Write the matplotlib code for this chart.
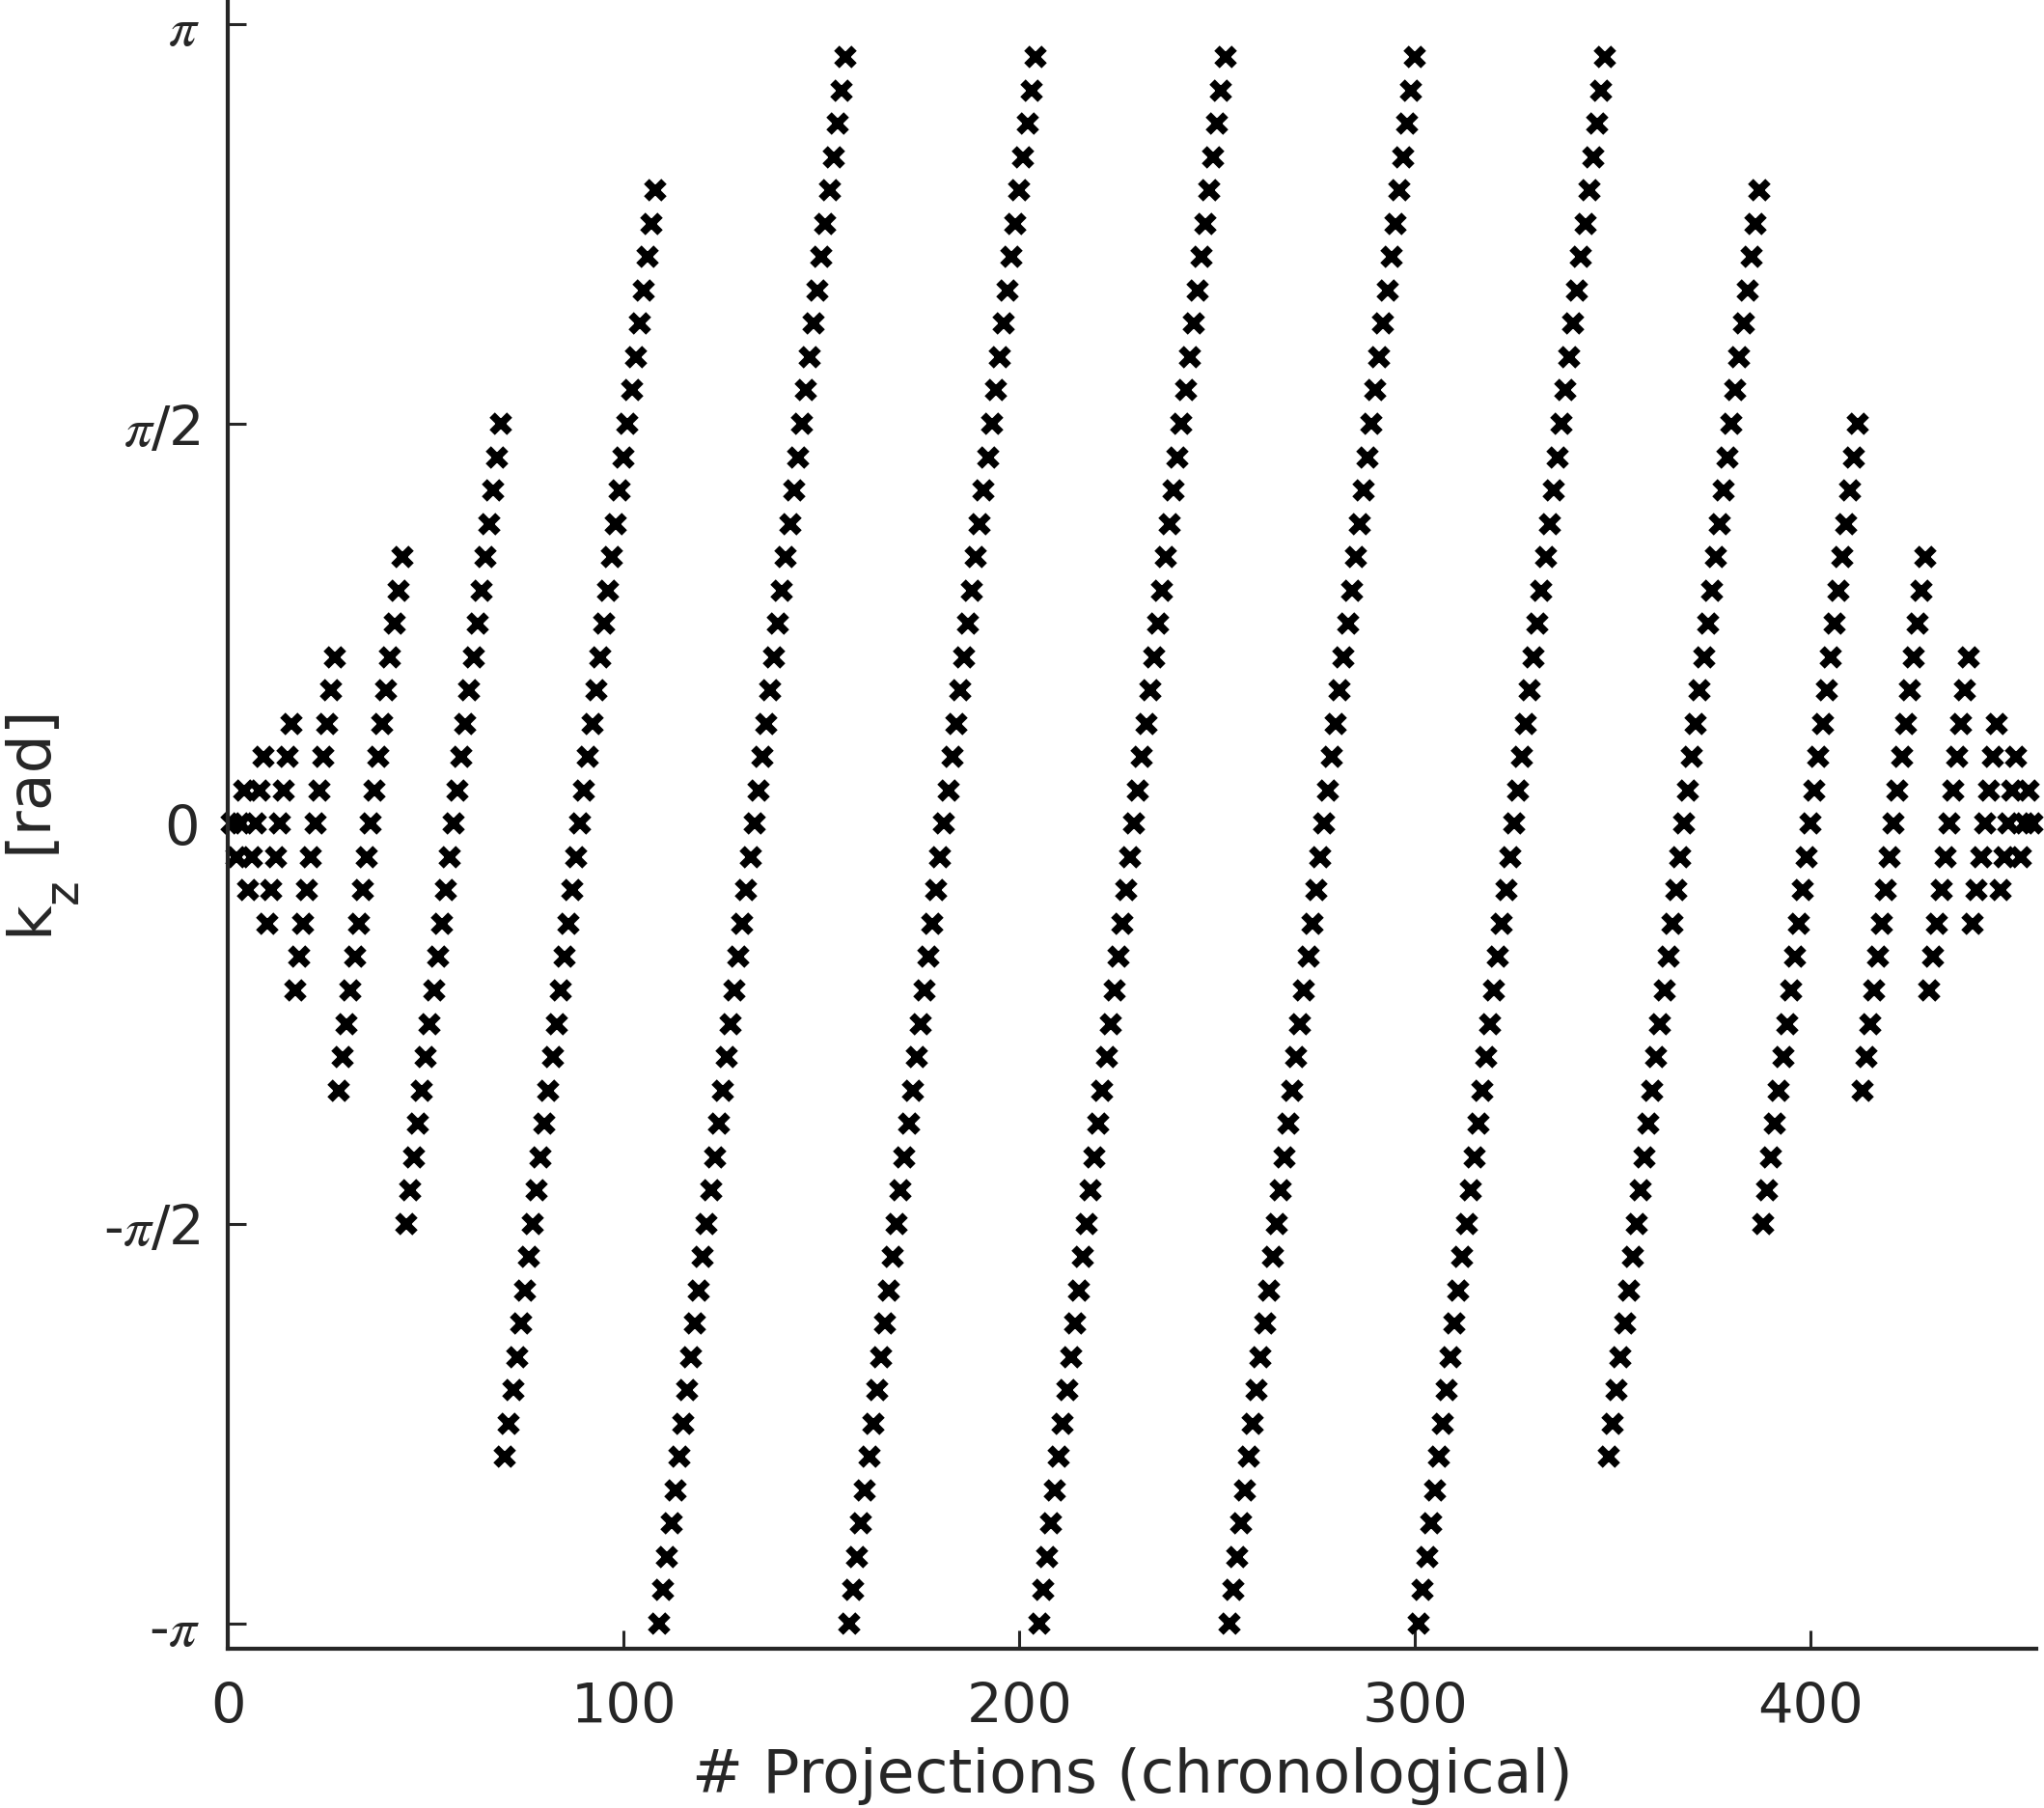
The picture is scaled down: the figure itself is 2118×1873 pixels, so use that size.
import numpy as np
import matplotlib
matplotlib.use('Agg')
import matplotlib.pyplot as plt

# kz sweep of each partition block, in units of pi/24 (lowest -> highest)
# each block is acquired on consecutive projections, one kz step per projection
k_low  = [0, -1, -2, -3, -5, -8, -12, -19, -24, -24, -24, -24, -24,
          -19, -12, -8, -5, -3, -2, -1, 0]
k_high = [0, 1, 2, 3, 5, 8, 12, 19, 23, 23, 23, 23, 23,
          19, 12, 8, 5, 3, 2, 1, 0]
KZ_STEP = np.pi / 24

ytick_vals   = [-np.pi, -np.pi / 2, 0, np.pi / 2, np.pi]
ytick_labels = [r'-$\pi$', r'-$\pi$/2', '0', r'$\pi$/2', r'$\pi$']
xtick_vals   = [0, 100, 200, 300, 400]

# build the chronological list of (projection, kz)
kz = np.concatenate([np.arange(lo, hi + 1) for lo, hi in zip(k_low, k_high)]) * KZ_STEP
proj = np.arange(1, len(kz) + 1)

plt.rcParams['font.family'] = 'DejaVu Sans'
plt.rcParams['mathtext.fontset'] = 'stix'
AX_COL = '#262626'
W, H = 2118, 1874

fig = plt.figure(figsize=(W / 200, H / 200), dpi=200)
ax = fig.add_axes([0.1116, 0.0882, 0.8846, 0.9118])

ax.plot(proj, kz, linestyle='none', marker='x', color='black',
        markersize=6.4, markeredgewidth=2.8, clip_on=False)

ax.set_xlim(0, 457)
ax.set_ylim(-1.031 * np.pi, 1.031 * np.pi)
ax.set_xticks(xtick_vals)
ax.set_yticks(ytick_vals)
ax.set_yticklabels(ytick_labels)

for side in ['top', 'right']:
    ax.spines[side].set_visible(False)
for side in ['left', 'bottom']:
    ax.spines[side].set_color(AX_COL)
    ax.spines[side].set_linewidth(1.5)

ax.tick_params(axis='both', direction='in', length=7, width=1.1,
               colors=AX_COL, labelsize=20.7)
ax.tick_params(axis='x', pad=12)
ax.tick_params(axis='y', pad=10.5)

ax.set_xlabel('# Projections (chronological)', fontsize=22.8, color=AX_COL, labelpad=4.5)

# y label written piecewise so the subscript sits low like the original
def px(x, y_top):
    return x / W, 1 - y_top / H

lab_kw = dict(rotation=90, rotation_mode='anchor', ha='left', va='baseline', color=AX_COL)
fig.text(*px(48, 969), 'k', fontsize=22.8, **lab_kw)
fig.text(*px(80, 936), 'z', fontsize=17.5, **lab_kw)
fig.text(*px(48, 884), '[rad]', fontsize=22.8, **lab_kw)

fig.savefig('out.png', dpi=200)
